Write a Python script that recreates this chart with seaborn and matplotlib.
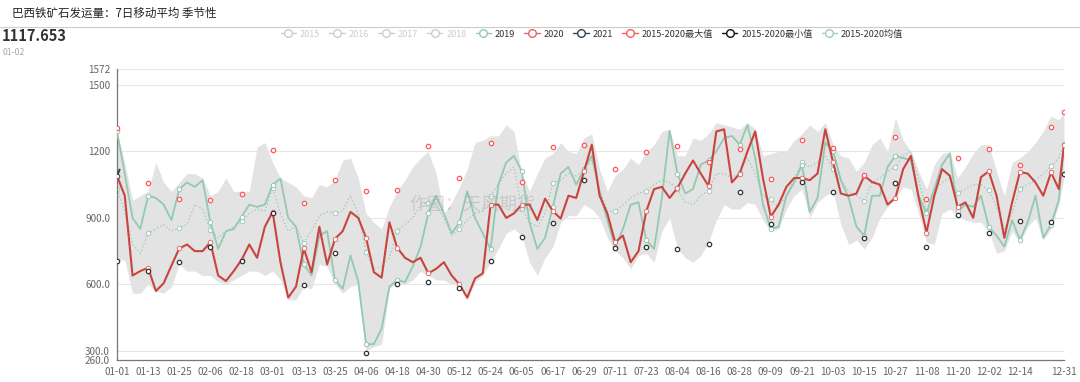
"""
巴西铁矿石发运量：7日移动平均 季节性图
"""

import matplotlib
matplotlib.use("Agg")
import pandas as pd
import matplotlib.pyplot as plt
from matplotlib.lines import Line2D
import seaborn as sns

sns.set_style("white")
plt.rcParams["font.family"] = ["Noto Sans CJK SC", "DejaVu Sans"]
plt.rcParams["axes.unicode_minus"] = False

# category axis: month-day of a leap year
DATES = pd.date_range("2020-01-01", "2020-12-31").strftime("%m-%d").tolist()
SAMPLE_DATES = DATES[::3] + ["12-31"]          # values read every 3 days
MARK_DATES = DATES[::12] + ["12-31"]           # symbol positions

Y_2019 = [
    1290, 1100, 900, 850, 1000, 990, 960, 890, 1030, 1060, 1040, 1070, 880, 760, 840, 850,
    905, 960, 950, 960, 1050, 1077, 900, 860, 690,
    640, 820, 840, 620, 580, 730, 612, 330, 330, 400, 590, 620, 610, 680, 770, 920,
    1000, 920, 830, 880, 1020, 900, 830, 760, 1050, 1150, 1180, 1110, 880, 760, 810, 950,
    1100, 1130, 1050, 1120, 1180, 1020, 890, 770, 850, 960, 970, 800, 760, 990, 1294, 1100,
    1010, 1030, 1140, 1160, 1200, 1260, 1270, 1230, 1320, 1170, 960, 850, 860, 1000, 1060, 1140,
    927, 990, 1240, 1200, 1070, 990, 860, 820, 1000, 1000, 1130, 1180, 1170, 1160, 1000, 920,
    1030, 1140, 1190, 930, 960, 950, 1000, 860, 820, 770, 890, 800, 880, 1000, 810, 870, 980, 1234,
]
Y_2020 = [
    1090, 1000, 640, 660, 675, 570, 605, 685, 762, 780, 750, 750, 790, 640, 615, 660,
    710, 780, 720, 860, 927, 700, 540, 590, 762,
    655, 860, 690, 805, 840, 927, 900, 810, 655, 630, 880, 765, 720, 700, 720, 650,
    670, 700, 640, 600, 540, 627, 650, 960, 960, 900, 920, 960, 960, 890, 987, 930,
    897, 1000, 990, 1110, 1230, 1000, 920, 790, 820, 700, 750, 930, 1030, 1040, 990, 1035,
    1100, 1159, 1100, 1044, 1290, 1300, 1060, 1100, 1200, 1290, 1077, 905, 960, 1040, 1080, 1080,
    1070, 1100, 1300, 1150, 1010, 1000, 1010, 1090, 1062, 1050, 960, 990, 1120, 1180, 990, 834,
    1000, 1120, 1090, 950, 970, 900, 1084, 1110, 1000, 810, 970, 1107, 1100, 1060, 1000, 1105, 1030, 1227,
]
Y_2021 = [1090, 1117.653]
BAND_HI = [
    1290, 1150, 980, 1000, 1020, 1150, 1060, 1020, 1060, 1100, 1100, 1080, 1000, 1020, 1080, 1020,
    1020, 1020, 1220, 1240, 1150, 1080, 1060, 1040, 1000,
    990, 1050, 1040, 1070, 1160, 1170, 1080, 920, 880, 850, 950, 1020, 1070, 1130, 1170, 1200,
    1100, 920, 970, 1040, 1120, 1240, 1250, 1270, 1270, 1320, 1290, 1100, 1020, 1100, 1170, 1190,
    1240, 1200, 1190, 1260, 1280, 1120, 1020, 1090, 1120, 1170, 1140, 1200, 1230, 1290, 1300, 1180,
    1180, 1260, 1250, 1280, 1330, 1320, 1310, 1300, 1330, 1300, 1180, 1190, 1200, 1200, 1250, 1280,
    1320, 1290, 1330, 1230, 1180, 1170, 1110, 1150, 1230, 1260, 1200, 1350, 1250, 1200, 1110, 1030,
    1140, 1190, 1200, 1080, 1130, 1190, 1230, 1230, 1110, 1000, 1150, 1170, 1200, 1240, 1290, 1360, 1340, 1380,
]
BAND_LO = [
    710, 710, 560, 560, 600, 570, 560, 590, 690, 660, 660, 640, 640, 612, 600, 620,
    640, 660, 660, 640, 660, 620, 530, 530, 590,
    580, 690, 680, 600, 560, 590, 600, 300, 320, 330, 580, 610, 600, 620, 660, 640,
    620, 620, 600, 600, 530, 610, 640, 700, 760, 830, 850, 820, 700, 640, 720, 770,
    880, 910, 910, 960, 940, 900, 810, 750, 720, 670, 730, 740, 700, 840, 900, 760,
    720, 700, 730, 790, 890, 960, 940, 940, 970, 960, 890, 840, 850, 940, 1000, 1030,
    900, 970, 1000, 1020, 870, 780, 800, 760, 810, 900, 950, 990, 1040, 1030, 920, 790,
    780, 920, 940, 910, 890, 880, 880, 840, 740, 750, 840, 790, 860, 900, 800, 850, 960, 1080,
]
Y_MEAN = [
    1030, 930, 780, 740, 830, 850, 870, 840, 855, 870, 960, 940, 845, 810, 840, 860,
    885, 920, 940, 930, 1035, 920, 840, 860, 787,
    840, 910, 927, 922, 930, 1002, 920, 747, 670, 680, 720, 842, 870, 900, 960, 967,
    960, 900, 820, 850, 890, 920, 930, 999, 1050, 1100, 1130, 942, 880, 860, 920, 1057,
    1070, 1100, 1090, 1120, 1160, 1030, 930, 930, 960, 990, 1010, 1023, 1050, 1070, 1060, 1030,
    970, 960, 1000, 1023, 1100, 1100, 1080, 1107, 1170, 1100, 1000, 984, 950, 1000, 1080, 1152,
    1130, 1150, 1180, 1122, 1070, 1020, 1000, 975, 1060, 1080, 1110, 1129, 1180, 1200, 1070, 930,
    1030, 1060, 1080, 1014, 1030, 1050, 1050, 1024, 950, 850, 920, 1032, 1050, 1070, 1100, 1132, 1170, 1234,
]
MAX_MARK = [
    1305, 1058, 987, 980, 1010, 1205, 969, 1069, 1020, 1024, 1224, 1081, 1239, 1062, 1219, 1230,
    1119, 1198, 1225, 1152, 1210, 1074, 1252, 1215, 1092, 1266, 984, 1171, 1210, 1140, 1312, 1377,
]
MIN_MARK = [
    706, 660, 702, 770, 705, 924, 597, 742, 290, 601, 612, 582, 705, 813, 877, 1072,
    762, 769, 759, 784, 1017, 874, 1062, 1017, 807, 1059, 768, 912, 831, 888, 882, 1098,
]
Y_TICKS = [260, 300, 600, 900, 1200, 1500, 1572]
Y_TICK_LABELS = ["260.0", "300.0", "600.0", "900.0", "1200", "1500", "1572"]

C2019 = "#93c9b1"
C2020 = "#c9443f"
C2021 = "#2f4554"
CMAX = "#ff5a5a"
CMIN = "#333333"
CMEAN = "#a3ccba"
BAND = "#e3e3e3"


def main():
    df = pd.DataFrame({
        "x": [DATES.index(d) for d in SAMPLE_DATES],
        "y2019": Y_2019, "y2020": Y_2020, "hi": BAND_HI, "lo": BAND_LO, "mean": Y_MEAN,
    })
    marks = pd.DataFrame({"x": [DATES.index(d) for d in MARK_DATES],
                          "max": MAX_MARK, "min": MIN_MARK})
    every = sorted({i for i, d in enumerate(SAMPLE_DATES) if d in MARK_DATES})

    fig = plt.figure(figsize=(10.8, 3.82), dpi=100)
    ax = fig.add_axes([0.1083, 0.0584, 0.8769, 0.761])

    ax.fill_between(df["x"], df["lo"], df["hi"], color=BAND, lw=0, zorder=1)

    sym = dict(marker="o", markevery=every, markersize=3.2,
               markerfacecolor="white", markeredgewidth=0.7)
    sns.lineplot(data=df, x="x", y="mean", ax=ax, color=CMEAN, linewidth=1.0,
                 linestyle=(0, (1, 1.6)), markeredgecolor=CMEAN, zorder=2, **sym)
    sns.lineplot(data=df, x="x", y="y2019", ax=ax, color=C2019, linewidth=1.3,
                 markeredgecolor=C2019, zorder=3, **sym)
    sns.lineplot(data=df, x="x", y="y2020", ax=ax, color=C2020, linewidth=1.5,
                 markeredgecolor="#e07070", zorder=4, **sym)
    sns.lineplot(x=[0, 1], y=Y_2021, ax=ax, color=C2021, linewidth=1.5, marker="o",
                 markevery=[0], markersize=3.2, markerfacecolor="white",
                 markeredgecolor=C2021, markeredgewidth=0.7, zorder=5)
    sns.scatterplot(data=marks, x="x", y="max", ax=ax, color="white", edgecolor=CMAX,
                    s=10, linewidth=0.9, zorder=6)
    sns.scatterplot(data=marks, x="x", y="min", ax=ax, color="white", edgecolor=CMIN,
                    s=10, linewidth=0.9, zorder=6)

    # axes styling
    ax.set_xlim(0, len(DATES) - 1)
    ax.set_ylim(Y_TICKS[0], Y_TICKS[-1])
    ax.set_yticks(Y_TICKS)
    ax.set_yticklabels(Y_TICK_LABELS)
    xt = list(range(0, len(DATES) - 12, 12)) + [len(DATES) - 1]
    ax.set_xticks(xt)
    ax.set_xticklabels([DATES[i] for i in xt])
    ax.set_xlabel("")
    ax.set_ylabel("")
    ax.tick_params(axis="both", labelsize=7.2, colors="#666666", length=3, width=0.8, pad=2)
    ax.grid(axis="y", color="#e6e6e6", linewidth=0.8)
    ax.set_axisbelow(True)
    for side in ("top", "right"):
        ax.spines[side].set_visible(False)
    for side in ("left", "bottom"):
        ax.spines[side].set_color("#777777")
        ax.spines[side].set_linewidth(0.9)

    # header
    fig.text(0.011, 0.966, "巴西铁矿石发运量：7日移动平均 季节性", fontsize=8.3,
             color="#222222", va="center")
    fig.add_artist(Line2D([0, 1], [1 - 27 / 382] * 2, color="#cccccc", lw=0.8))
    fig.text(0.002, 0.905, "1117.653", fontsize=10.5, fontweight="bold",
             color="#333333", va="center")
    fig.text(0.002, 0.862, "01-02", fontsize=6.3, color="#aaaaaa", va="center")

    # watermark
    fig.text(0.437, 0.463, "作图：天风期货", fontsize=13, color="#999999", alpha=0.35,
             ha="center", va="center", zorder=10)

    # legend
    entries = [("2015", "#cccccc", "#cccccc"), ("2016", "#cccccc", "#cccccc"),
               ("2017", "#cccccc", "#cccccc"), ("2018", "#cccccc", "#cccccc"),
               ("2019", C2019, "#333333"), ("2020", "#e06666", "#333333"),
               ("2021", C2021, "#333333"), ("2015-2020最大值", CMAX, "#333333"),
               ("2015-2020最小值", "#111111", "#333333"), ("2015-2020均值", CMEAN, "#333333")]
    handles = [Line2D([], [], color=c, lw=1.0, marker="o", markersize=5.5,
                      markerfacecolor="white", markeredgecolor=c, markeredgewidth=1.0)
               for _, c, _ in entries]
    leg = fig.legend(handles, [e[0] for e in entries], loc="center",
                     bbox_to_anchor=(0.548, 0.911), ncol=len(entries), frameon=False,
                     fontsize=6.6, handlelength=1.7, handletextpad=0.4,
                     columnspacing=1.0, borderpad=0)
    for txt, (_, _, tc) in zip(leg.get_texts(), entries):
        txt.set_color(tc)

    fig.savefig("out.png", dpi=100)
    plt.close(fig)


if __name__ == "__main__":
    main()
